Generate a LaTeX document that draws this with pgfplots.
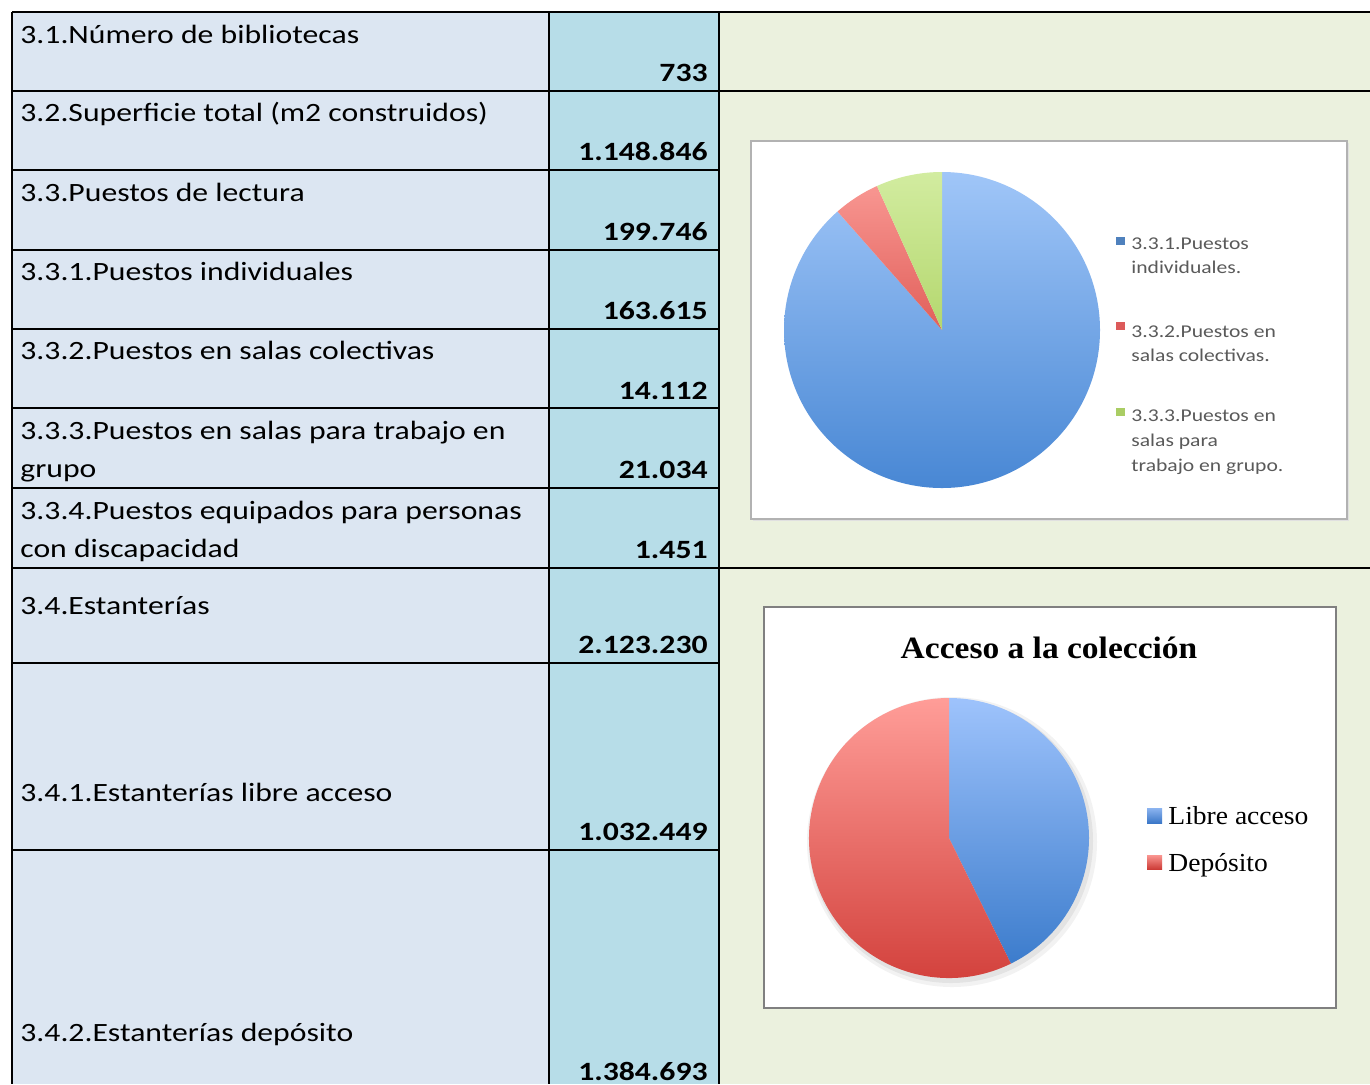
\documentclass[border=0pt]{standalone}
\usepackage{fontspec}
\setmainfont[FakeStretch=1.2]{Carlito}
\newfontfamily\serif[FakeStretch=1.08]{Liberation Serif}
\newfontfamily\serifleg[FakeStretch=1.06]{Liberation Serif}
\usepackage{pgfplots}
\pgfplotsset{compat=1.18}

\definecolor{cellA}{RGB}{220,230,242}
\definecolor{cellB}{RGB}{183,221,232}
\definecolor{bgG}{RGB}{235,241,222}
\definecolor{legtext}{RGB}{90,90,90}

% pie 1: shares (percent)
\def\pIndiv{88.5}
\def\pColec{4.75}
\def\pGrupo{6.75}
% pie 2: thousands of metres of shelving
\def\vLibre{1032.449}
\def\vDepos{1384.693}

\pgfmathsetmacro\aA{90-3.6*\pIndiv}
\pgfmathsetmacro\aB{\aA-3.6*\pColec}
\pgfmathsetmacro\fLibre{\vLibre/(\vLibre+\vDepos)}
\pgfmathsetmacro\aL{90-360*\fLibre}

\begin{document}
\begin{tikzpicture}
\begin{scope}[x=0.5pt,y=-0.5pt]
\useasboundingbox (0,0) rectangle (1370,1084);
\fill[white] (0,0) rectangle (1370,1084);
\fill[bgG] (719,12) rectangle (1370,1084);
\fill[cellA] (12,12) rectangle (549,1084);
\fill[cellB] (549,12) rectangle (719,1084);

% chart frames
\fill[black!12] (753,143) rectangle (1349,521);
\filldraw[fill=white, draw=black!30, line width=0.8pt] (751,141) rectangle (1347,519);
\filldraw[fill=white, draw=black!50, line width=1pt] (764,607) rectangle (1336,1008);

% grid lines
\begin{scope}[line width=1pt]
\foreach \yy in {170,250,329,408,488,663,850} \draw (12,\yy) -- (719,\yy);
\foreach \yy in {12,91,568} \draw (12,\yy) -- (1370,\yy);
\foreach \xx in {12,549,719} \draw (\xx,12) -- (\xx,1084);
\end{scope}

% table text
\begin{scope}[every node/.style={inner sep=0pt, font=\fontsize{13.2pt}{15pt}\selectfont}]
\node[anchor=base west] at (20,43) {3.1.Número de bibliotecas};
\node[anchor=base west] at (20,121) {3.2.Superficie total (m2 construidos)};
\node[anchor=base west] at (20,201) {3.3.Puestos de lectura};
\node[anchor=base west] at (20,280) {3.3.1.Puestos individuales};
\node[anchor=base west] at (20,359) {3.3.2.Puestos en salas colectivas};
\node[anchor=base west] at (20,439) {3.3.3.Puestos en salas para trabajo en};
\node[anchor=base west] at (20,477) {grupo};
\node[anchor=base west] at (20,519) {3.3.4.Puestos equipados para personas};
\node[anchor=base west] at (20,557) {con discapacidad};
\node[anchor=base west] at (20,614) {3.4.Estanterías};
\node[anchor=base west] at (20,801) {3.4.1.Estanterías libre acceso};
\node[anchor=base west] at (20,1041) {3.4.2.Estanterías depósito};
\node[anchor=base east, font=\fontsize{13.2pt}{15pt}\selectfont\bfseries] at (708,81) {733};
\node[anchor=base east, font=\fontsize{13.2pt}{15pt}\selectfont\bfseries] at (708,160) {1.148.846};
\node[anchor=base east, font=\fontsize{13.2pt}{15pt}\selectfont\bfseries] at (708,240) {199.746};
\node[anchor=base east, font=\fontsize{13.2pt}{15pt}\selectfont\bfseries] at (708,319) {163.615};
\node[anchor=base east, font=\fontsize{13.2pt}{15pt}\selectfont\bfseries] at (708,399) {14.112};
\node[anchor=base east, font=\fontsize{13.2pt}{15pt}\selectfont\bfseries] at (708,478) {21.034};
\node[anchor=base east, font=\fontsize{13.2pt}{15pt}\selectfont\bfseries] at (708,558) {1.451};
\node[anchor=base east, font=\fontsize{13.2pt}{15pt}\selectfont\bfseries] at (708,653) {2.123.230};
\node[anchor=base east, font=\fontsize{13.2pt}{15pt}\selectfont\bfseries] at (708,840) {1.032.449};
\node[anchor=base east, font=\fontsize{13.2pt}{15pt}\selectfont\bfseries] at (708,1080) {1.384.693};
\end{scope}

% legend, pie 1
\begin{scope}[every node/.style={inner sep=0pt, anchor=base west, text=legtext, font=\fontsize{9pt}{10pt}\selectfont}]
\fill[fill={rgb,255:red,79;green,129;blue,189}] (1116,237) rectangle (1125,245);
\node at (1131,249) {3.3.1.Puestos};
\node at (1131,273) {individuales.};
\fill[fill={rgb,255:red,220;green,90;blue,90}] (1116,322) rectangle (1125,330);
\node at (1131,337) {3.3.2.Puestos en};
\node at (1131,361) {salas colectivas.};
\fill[fill={rgb,255:red,170;green,205;blue,100}] (1116,408) rectangle (1125,416);
\node at (1131,421) {3.3.3.Puestos en};
\node at (1131,446) {salas para};
\node at (1131,471) {trabajo en grupo.};
\end{scope}

% title and legend, pie 2
\node[inner sep=0pt, anchor=base, font=\serif\bfseries\fontsize{15.5pt}{18pt}\selectfont] at (1049,658) {Acceso a la colección};
\shade[top color={rgb,255:red,140;green,180;blue,240}, bottom color={rgb,255:red,60;green,120;blue,200}] (1147,808) rectangle (1162,823);
\shade[top color={rgb,255:red,250;green,150;blue,145}, bottom color={rgb,255:red,205;green,60;blue,55}] (1147,855) rectangle (1162,869);
\node[inner sep=0pt, anchor=base west, font=\serifleg\fontsize{13pt}{15pt}\selectfont] at (1168,824) {Libre acceso};
\node[inner sep=0pt, anchor=base west, font=\serifleg\fontsize{13pt}{15pt}\selectfont] at (1168,871) {Depósito};
\end{scope}

% pie 1
\begin{axis}[at={(471pt,-165pt)}, anchor=center, x=0.5pt, y=0.5pt,
  xmin=-160, xmax=160, ymin=-160, ymax=160, hide axis, clip=false]
\shade[top color={rgb,255:red,160;green,198;blue,248}, bottom color={rgb,255:red,72;green,135;blue,212}]
  (axis cs:0,0) -- ++(90:79pt) arc[start angle=90, end angle=\aA, radius=79pt] -- cycle;
\shade[top color={rgb,255:red,248;green,150;blue,145}, bottom color={rgb,255:red,225;green,95;blue,90}]
  (axis cs:0,0) -- ++(\aA:79pt) arc[start angle=\aA, end angle=\aB, radius=79pt] -- cycle;
\shade[top color={rgb,255:red,210;green,236;blue,160}, bottom color={rgb,255:red,180;green,215;blue,110}]
  (axis cs:0,0) -- ++(\aB:79pt) arc[start angle=\aB, end angle=-270, radius=79pt] -- cycle;
\end{axis}

% pie 2
\begin{axis}[at={(474.5pt,-419pt)}, anchor=center, x=0.5pt, y=0.5pt,
  xmin=-160, xmax=160, ymin=-160, ymax=160, hide axis, clip=false]
\fill[black, opacity=0.05] (axis cs:0,0) ++(1.5pt,-2pt) circle[radius=72.5pt];
\fill[black, opacity=0.06] (axis cs:0,0) ++(1pt,-1.5pt) circle[radius=71pt];
\shade[top color={rgb,255:red,158;green,195;blue,252}, bottom color={rgb,255:red,60;green,124;blue,204}]
  (axis cs:0,0) -- ++(90:70pt) arc[start angle=90, end angle=\aL, radius=70pt] -- cycle;
\shade[top color={rgb,255:red,255;green,157;blue,152}, bottom color={rgb,255:red,208;green,60;blue,55}]
  (axis cs:0,0) -- ++(\aL:70pt) arc[start angle=\aL, end angle=-270, radius=70pt] -- cycle;
\end{axis}
\end{tikzpicture}
\end{document}
